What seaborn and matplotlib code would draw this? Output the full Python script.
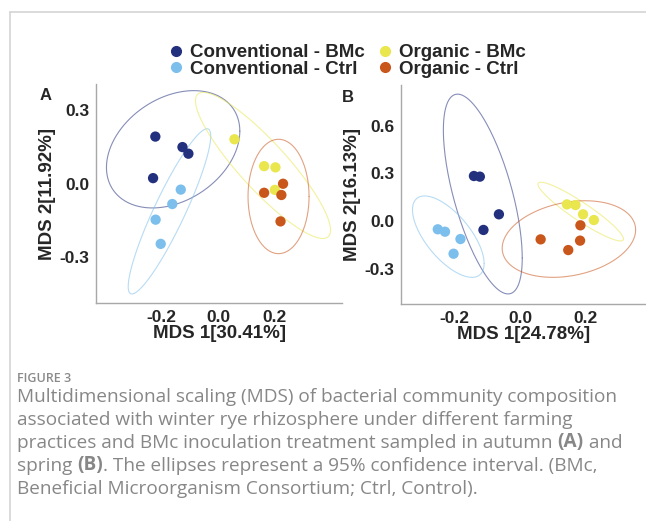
import numpy as np
import pandas as pd
import matplotlib
matplotlib.use("Agg")
import matplotlib.pyplot as plt
import seaborn as sns
from matplotlib.lines import Line2D

# grupos
grupos = ["Conventional - BMc", "Conventional - Ctrl", "Organic - BMc", "Organic - Ctrl"]
colores = ["#23307e", "#7dbfec", "#e9e64e", "#c9561b"]

# panel A (otoño) - coordenadas MDS
a_x = {
    "Conventional - BMc": [-0.222, -0.126, -0.105, -0.230],
    "Conventional - Ctrl": [-0.132, -0.162, -0.221, -0.203],
    "Organic - BMc": [0.058, 0.163, 0.203, 0.201],
    "Organic - Ctrl": [0.230, 0.163, 0.224, 0.221],
}
a_y = {
    "Conventional - BMc": [0.192, 0.149, 0.122, 0.022],
    "Conventional - Ctrl": [-0.025, -0.084, -0.148, -0.247],
    "Organic - BMc": [0.181, 0.071, 0.066, -0.026],
    "Organic - Ctrl": [-0.001, -0.038, -0.047, -0.155],
}
# panel B (primavera)
b_x = {
    "Conventional - BMc": [-0.140, -0.122, -0.064, -0.111],
    "Conventional - Ctrl": [-0.250, -0.228, -0.181, -0.202],
    "Organic - BMc": [0.143, 0.169, 0.192, 0.225],
    "Organic - Ctrl": [0.184, 0.063, 0.183, 0.147],
}
b_y = {
    "Conventional - BMc": [0.284, 0.280, 0.044, -0.054],
    "Conventional - Ctrl": [-0.050, -0.065, -0.111, -0.203],
    "Organic - BMc": [0.106, 0.102, 0.044, 0.008],
    "Organic - Ctrl": [-0.025, -0.113, -0.121, -0.180],
}

# elipses 95%: centro x, centro y, semi-rango x, semi-rango y, correlacion
elip_a = {
    "Conventional - BMc": (-0.159, 0.140, 0.236, 0.240, 0.31),
    "Conventional - Ctrl": (-0.172, -0.114, 0.146, 0.338, 0.91),
    "Organic - BMc": (0.159, 0.074, 0.239, 0.299, -0.885),
    "Organic - Ctrl": (0.214, -0.053, 0.108, 0.234, 0.0),
}
elip_b = {
    "Conventional - BMc": (-0.113, 0.171, 0.120, 0.626, -0.64),
    "Conventional - Ctrl": (-0.218, -0.096, 0.109, 0.255, -0.66),
    "Organic - BMc": (0.185, 0.061, 0.130, 0.184, -0.93),
    "Organic - Ctrl": (0.149, -0.111, 0.203, 0.240, 0.24),
}

etiq_x = ["MDS 1[30.41%]", "MDS 1[24.78%]"]
etiq_y = ["MDS 2[11.92%]", "MDS 2[16.13%]"]


def a_tabla(dx, dy):
    filas = []
    for g in grupos:
        for x, y in zip(dx[g], dy[g]):
            filas.append({"MDS1": x, "MDS2": y, "grupo": g})
    return pd.DataFrame(filas)


def elipse(ax, params, color):
    cx, cy, hx, hy, rho = params
    sigma = np.array([[hx**2, rho * hx * hy], [rho * hx * hy, hy**2]])
    L = np.linalg.cholesky(sigma + np.eye(2) * 1e-9)
    t = np.linspace(0, 2 * np.pi, 200)
    pts = L @ np.vstack([np.cos(t), np.sin(t)])
    ax.plot(cx + pts[0], cy + pts[1], color=color, alpha=0.55, lw=0.8, zorder=1)


sns.set_style("white")
plt.rcParams["font.family"] = ["Liberation Sans", "DejaVu Sans"]
plt.rcParams["font.weight"] = "bold"

fig = plt.figure(figsize=(6.46, 5.21), dpi=100)
ax_a = fig.add_axes([0.1486, 0.4184, 0.381, 0.4203])
ax_b = fig.add_axes([0.6207, 0.4165, 0.379, 0.4203])

paleta = dict(zip(grupos, colores))
paneles = [
    (ax_a, a_tabla(a_x, a_y), elip_a, (-0.432, 0.439), (-0.489, 0.407), [-0.2, 0.0, 0.2], [-0.3, 0.0, 0.3]),
    (ax_b, a_tabla(b_x, b_y), elip_b, (-0.362, 0.383), (-0.518, 0.854), [-0.2, 0.0, 0.2], [-0.3, 0.0, 0.3, 0.6]),
]

for i, (ax, df, elip, xl, yl, xt, yt) in enumerate(paneles):
    for g in grupos:
        elipse(ax, elip[g], paleta[g])
    sns.scatterplot(data=df, x="MDS1", y="MDS2", hue="grupo", hue_order=grupos,
                    palette=paleta, s=55, edgecolor="none", legend=False, ax=ax, zorder=3)
    ax.set_xlim(xl)
    ax.set_ylim(yl)
    ax.set_xticks(xt)
    ax.set_yticks(yt)
    ax.set_xticklabels([f"{v:.1f}" for v in xt])
    ax.set_yticklabels([f"{v:.1f}" for v in yt])
    ax.tick_params(labelsize=12.5, length=3, width=0.8, color="#a8a8a8", pad=2)
    ax.set_xlabel(etiq_x[i], fontsize=13.5, fontweight="bold", labelpad=0)
    ax.set_ylabel(etiq_y[i], fontsize=13.5, fontweight="bold", labelpad=2)
    sns.despine(ax=ax)
    for s in ["left", "bottom"]:
        ax.spines[s].set_color("#a8a8a8")
        ax.spines[s].set_linewidth(1.0)

fig.text(40 / 646, 1 - 96 / 521, "A", fontsize=12, fontweight="bold", ha="left", va="center")
fig.text(342 / 646, 1 - 97 / 521, "B", fontsize=12, fontweight="bold", ha="left", va="center")

# leyenda
handles = [Line2D([], [], marker="o", ls="", color=c, markersize=7) for c in colores]
fig.legend(handles, grupos, ncol=2, loc="center", bbox_to_anchor=(348 / 646, 1 - 61 / 521),
           frameon=False, fontsize=13.5, handlelength=0.6, handletextpad=0.45,
           columnspacing=0.75, labelspacing=-0.02, borderpad=0)

# marco
fig.add_artist(Line2D([10 / 646, 1], [1 - 12 / 521, 1 - 12 / 521], color="#d4d4d4", lw=1.2))
fig.add_artist(Line2D([10 / 646, 10 / 646], [0, 1 - 12 / 521], color="#d4d4d4", lw=1.2))

# pie de figura
gris = "#878787"
tam = 13.7
fig.text(17 / 646, 1 - 378 / 521, "FIGURE 3", family="Open Sans", fontsize=9,
         fontweight="semibold", color="#8a8a8a", va="center")
partes = [
    [("Multidimensional scaling (MDS) of bacterial community composition", "normal")],
    [("associated with winter rye rhizosphere under different farming", "normal")],
    [("practices and BMc inoculation treatment sampled in autumn ", "normal"), ("(A)", "bold"), (" and", "normal")],
    [("spring ", "normal"), ("(B)", "bold"), (". The ellipses represent a 95% confidence interval. (BMc,", "normal")],
    [("Beneficial Microorganism Consortium; Ctrl, Control).", "normal")],
]
ys = [402, 425, 448, 471, 494]
for y, fila in zip(ys, partes):
    prev = None
    for txt, w in fila:
        if prev is None:
            prev = fig.text(17 / 646, 1 - y / 521, txt, family="Open Sans", fontsize=tam,
                            fontweight=w, color=gris, va="baseline")
        else:
            prev = fig.add_artist(matplotlib.text.Annotation(
                txt, xy=(1, 0), xycoords=prev, va="bottom", ha="left",
                family="Open Sans", fontsize=tam, fontweight=w, color=gris,
                annotation_clip=False))

fig.savefig("out.png", dpi=100)
print("ok")
